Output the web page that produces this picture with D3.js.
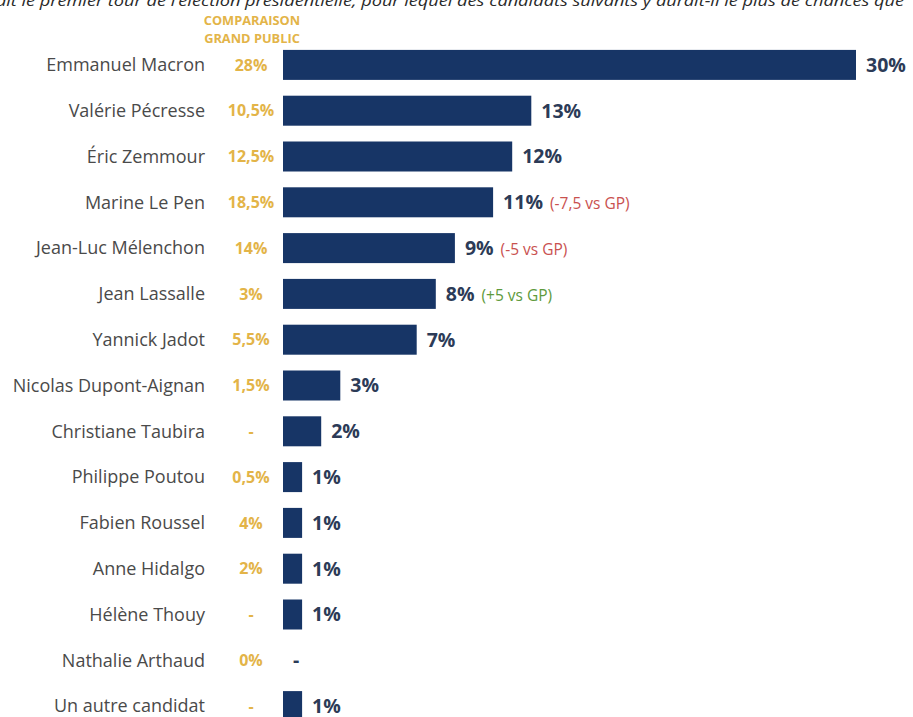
<!DOCTYPE html>
<html>
<head>
<meta charset="utf-8">
<script src="https://cdn.jsdelivr.net/npm/d3@7"></script>
<style>
  html, body { margin: 0; padding: 0; background: #fff; }
  svg { display: block; font-family: "Open Sans", Lato, sans-serif; }
</style>
</head>
<body>
<div id="chart"></div>
<script>
// candidats, du haut vers le bas
const candidates = [
  'Emmanuel Macron', 'Valérie Pécresse', 'Éric Zemmour', 'Marine Le Pen',
  'Jean-Luc Mélenchon', 'Jean Lassalle', 'Yannick Jadot', 'Nicolas Dupont-Aignan',
  'Christiane Taubira', 'Philippe Poutou', 'Fabien Roussel', 'Anne Hidalgo',
  'Hélène Thouy', 'Nathalie Arthaud', 'Un autre candidat'
];
// valeurs (%) ; null = "-"
const values = [30, 13, 12, 11, 9, 8, 7, 3, 2, 1, 1, 1, 1, null, 1];
// comparaison grand public
const gpLabels = ['28%', '10,5%', '12,5%', '18,5%', '14%', '3%', '5,5%', '1,5%',
  '-', '0,5%', '4%', '2%', '-', '0%', '-'];
// écarts vs GP
const notes = ['', '', '', '(-7,5 vs GP)', '(-5 vs GP)', '(+5 vs GP)', '', '', '', '', '', '', '', '', ''];
const noteColors = ['', '', '', '#c9514f', '#c9514f', '#5e9a3c', '', '', '', '', '', '', '', '', ''];

const title = 'ait le premier tour de l\u2019élection présidentielle, pour lequel des candidats suivants y aurait-il le plus de chances que';

const W = 913, H = 717;
const svg = d3.select('#chart').append('svg').attr('width', W).attr('height', H);

const data = candidates.map((name, i) => ({
  name, value: values[i], gp: gpLabels[i], note: notes[i], noteColor: noteColors[i]
}));

const x = d3.scaleLinear().domain([0, 30]).range([283, 856]);
const y = d3.scaleBand().domain(candidates).range([42, 729])
  .paddingInner(0.345).paddingOuter(0.1725);

// titre coupé en haut
svg.append('text')
  .attr('x', -4).attr('y', 6)
  .attr('font-style', 'italic')
  .attr('font-size', 15)
  .attr('fill', '#2a2a2a')
  .attr('textLength', 908)
  .attr('lengthAdjust', 'spacingAndGlyphs')
  .text(title);

// entête comparaison
const head = svg.append('text')
  .attr('text-anchor', 'middle')
  .attr('font-size', 12.8)
  .attr('font-weight', 700)
  .attr('fill', '#e3b448');
head.append('tspan').attr('x', 252).attr('y', 25).text('COMPARAISON');
head.append('tspan').attr('x', 252).attr('y', 43).text('GRAND PUBLIC');

const row = svg.append('g').selectAll('g.row')
  .data(data)
  .enter()
  .append('g')
  .attr('class', 'row')
  .attr('transform', (d) => `translate(0,${y(d.name) + y.bandwidth() / 2})`);

row.append('text')
  .attr('x', 205)
  .attr('dy', '0.35em')
  .attr('text-anchor', 'end')
  .attr('font-size', 18)
  .attr('fill', '#4a4a4a')
  .text((d) => d.name);

row.append('text')
  .attr('x', 251)
  .attr('dy', '0.35em')
  .attr('text-anchor', 'middle')
  .attr('font-size', 16)
  .attr('font-weight', 700)
  .attr('fill', '#e3b448')
  .text((d) => d.gp);

row.filter((d) => d.value !== null)
  .append('rect')
  .attr('x', x(0))
  .attr('y', -y.bandwidth() / 2)
  .attr('width', (d) => x(d.value) - x(0))
  .attr('height', y.bandwidth())
  .attr('fill', '#173566');

const lab = row.append('text')
  .attr('x', (d) => d.value === null ? x(0) + 10 : x(d.value) + 10)
  .attr('dy', '0.35em')
  .attr('font-size', 19.5)
  .attr('font-weight', 700)
  .attr('fill', '#2c3b57');

lab.append('tspan').text((d) => d.value === null ? '-' : d.value + '%');
lab.append('tspan')
  .attr('dx', 7)
  .attr('font-size', 15.5)
  .attr('font-weight', 400)
  .attr('fill', (d) => d.noteColor)
  .text((d) => d.note);
</script>
</body>
</html>
